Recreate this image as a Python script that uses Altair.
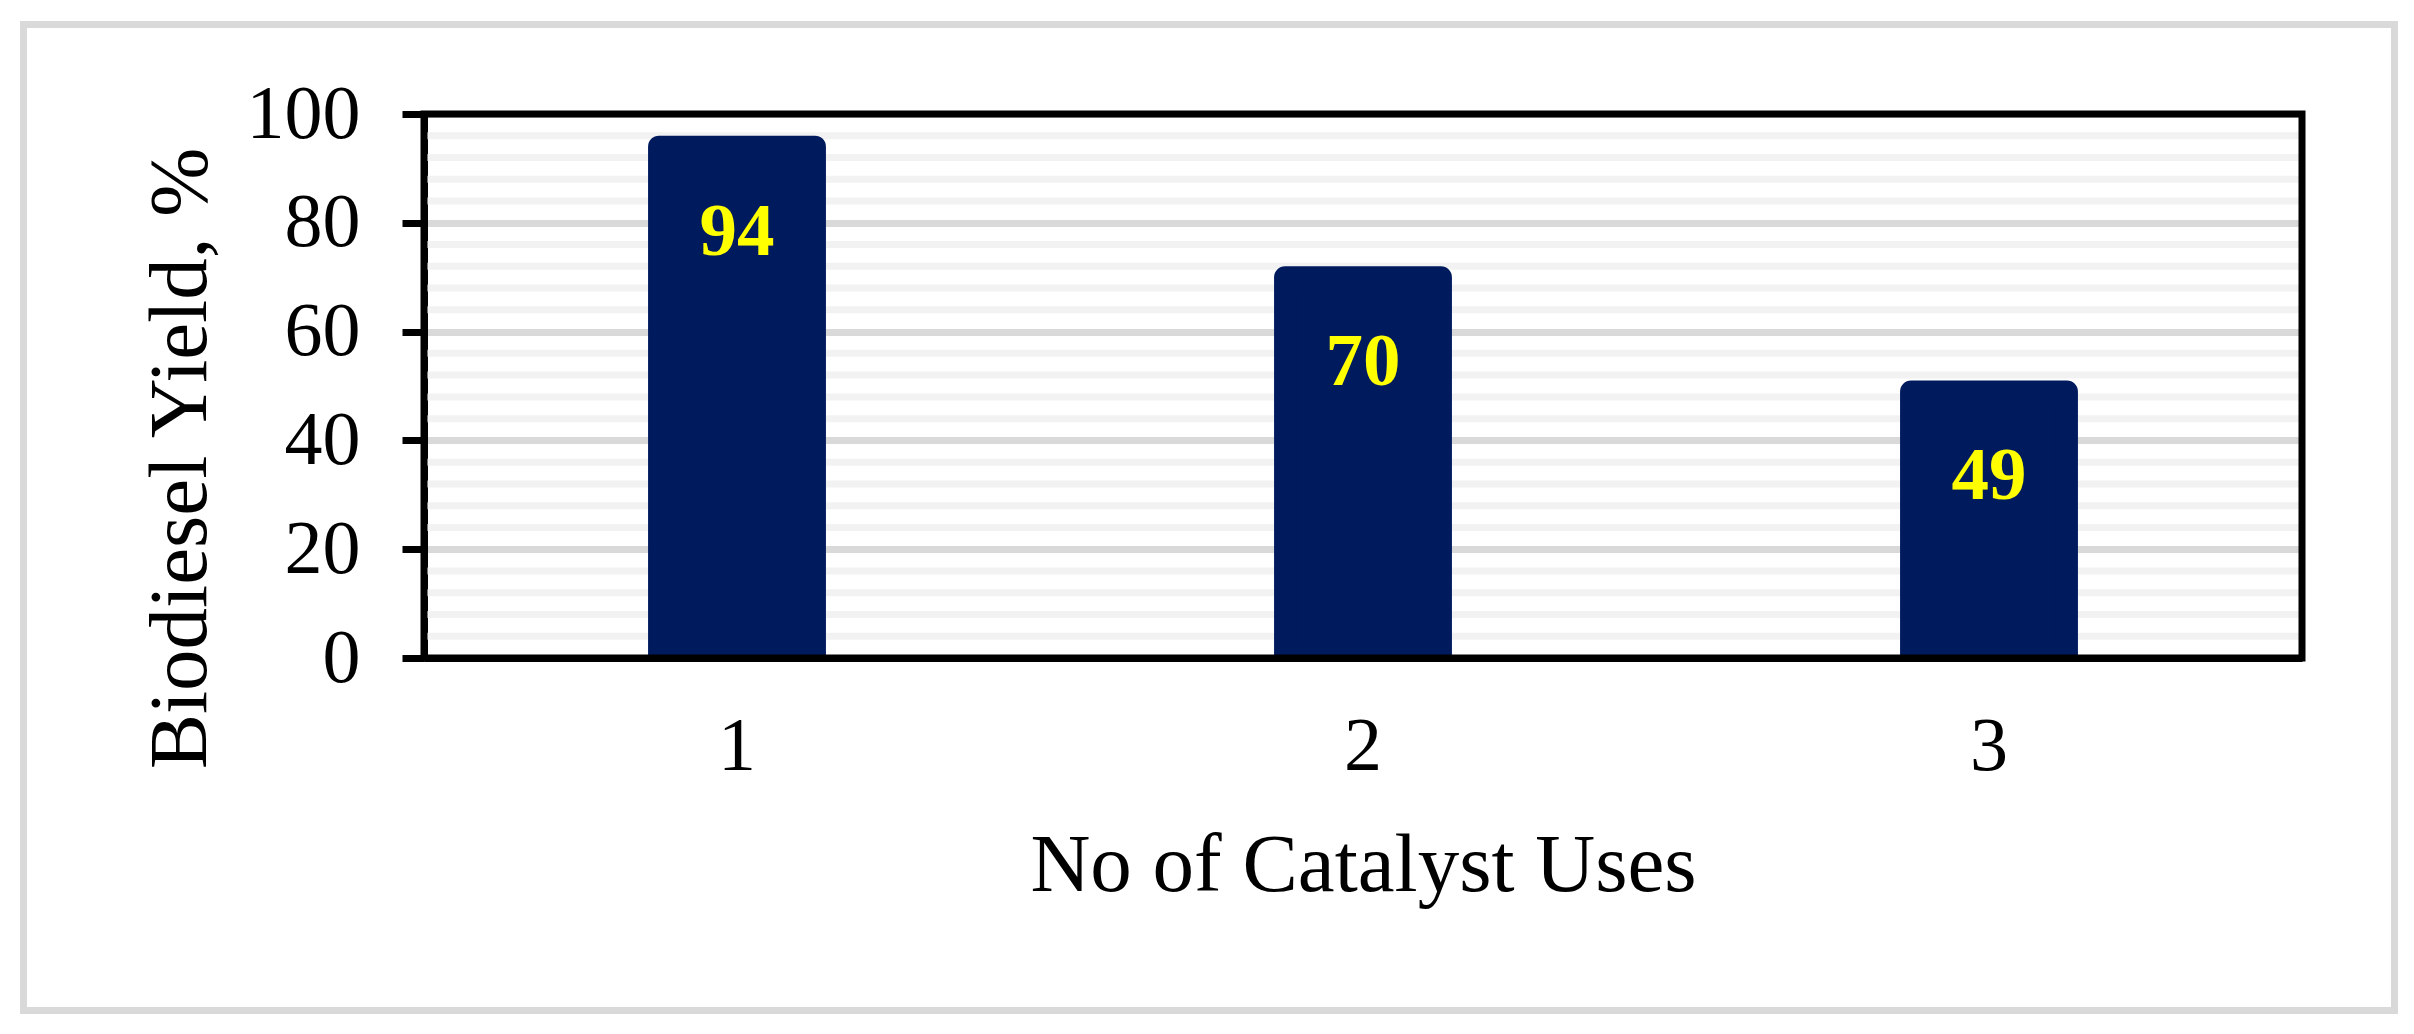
import altair as alt
import pandas as pd

uses = ["1", "2", "3"]
yields = [94, 70, 49]
major_ticks = [0, 20, 40, 60, 80, 100]
minor_grid = [4, 8, 12, 16, 24, 28, 32, 36, 44, 48, 52, 56, 64, 68, 72, 76, 84, 88, 92, 96]

FONT = "Liberation Serif"
BAR = "#001A5E"

df = pd.DataFrame({"uses": uses, "yield": yields})
minor_df = pd.DataFrame({"yield": minor_grid})

W, H = 1878, 544

x_enc = alt.X(
    "uses:N",
    sort=uses,
    scale=alt.Scale(paddingInner=0.751, paddingOuter=0.3755),
    axis=alt.Axis(
        title="No of Catalyst Uses",
        labelAngle=0,
        labelFont=FONT,
        labelFontSize=76,
        labelColor="black",
        labelPadding=51,
        ticks=False,
        tickSize=0,
        domainColor="black",
        domainWidth=7,
        titleFont=FONT,
        titleFontSize=83,
        titleFontWeight="normal",
        titleColor="black",
        titleY=232,
        titleBaseline="alphabetic",
        grid=False,
    ),
)

y_scale = alt.Scale(domain=[0, 100], nice=False)

y_axis = alt.Axis(
    title="Biodiesel Yield, %",
    values=major_ticks,
    labelFont=FONT,
    labelFontSize=76,
    labelColor="black",
    labelPadding=42,
    tickSize=22,
    tickWidth=7,
    tickColor="black",
    domainColor="black",
    domainWidth=7,
    grid=True,
    gridColor="#d9d9d9",
    gridWidth=7,
    titleFont=FONT,
    titleFontSize=83,
    titleFontWeight="normal",
    titleColor="black",
    titleAngle=-90,
    titleX=-219,
    titleY=344,
    titleAlign="center",
    titleBaseline="alphabetic",
)

y_enc = alt.Y("yield:Q", scale=y_scale, axis=y_axis)

outer = alt.Chart(alt.Data(values=[{}])).mark_rect(
    fillOpacity=0, stroke="#d9d9d9", strokeWidth=7
).encode(
    x=alt.value(-400.5), x2=alt.value(1970.5), y=alt.value(-89.5), y2=alt.value(896.5)
)

plot_frame = alt.Chart(alt.Data(values=[{}])).mark_rect(
    fillOpacity=0, stroke="black", strokeWidth=7, strokeJoin="miter"
).encode(
    x=alt.value(0), x2=alt.value(W), y=alt.value(0), y2=alt.value(H)
)

minor = alt.Chart(minor_df).mark_rule(color="#f2f2f2", strokeWidth=7).encode(
    y=y_enc
)

bars = alt.Chart(df).mark_bar(
    color=BAR, stroke=BAR, strokeWidth=22, strokeJoin="round", clip=True
).encode(x=x_enc, y=y_enc)

labels = alt.Chart(df).mark_text(
    font=FONT, fontSize=75, fontWeight="bold", color="#FFFF00",
    baseline="alphabetic", dy=108
).encode(x=x_enc, y=y_enc, text=alt.Text("yield:Q"))

chart = alt.layer(minor, bars, labels, plot_frame, outer).properties(
    width=W,
    height=H,
    autosize=alt.AutoSizeParams(type="none"),
    padding={"left": 416, "top": 106, "right": 100, "bottom": 370},
    background="white",
).configure_view(stroke="transparent", strokeWidth=0)

chart.save("out.html", embed_options={"renderer": "svg", "actions": False})
